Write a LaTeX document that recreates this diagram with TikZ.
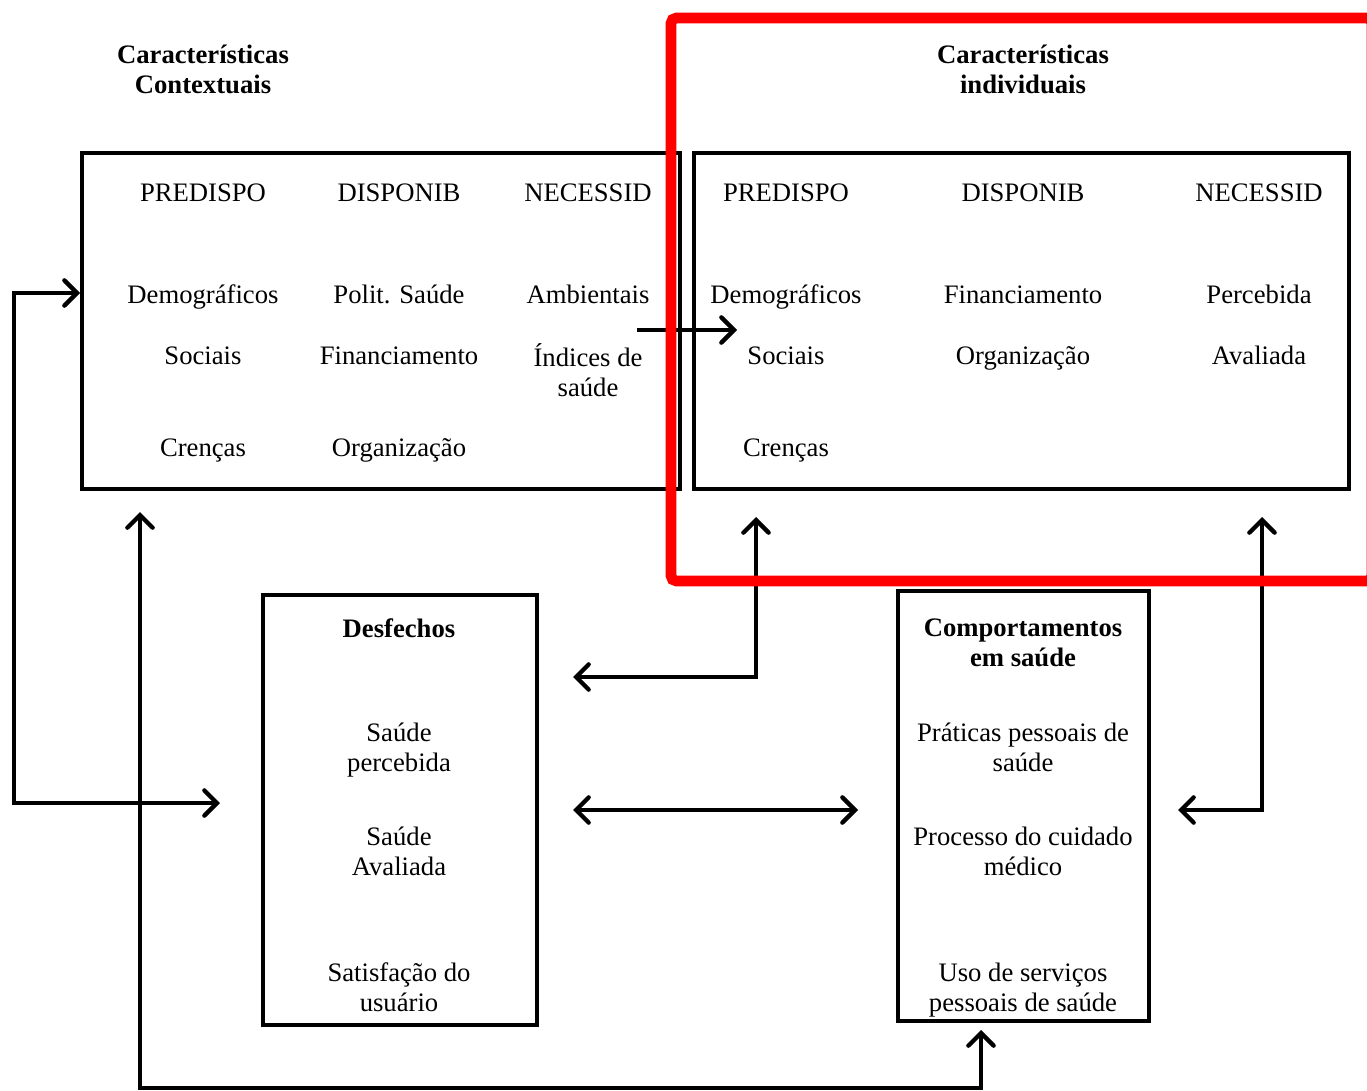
\documentclass[tikz,border=0pt]{standalone}
\usepackage{fontspec}
\setmainfont{Liberation Serif}
\usetikzlibrary{arrows.meta}
\begin{document}
\begin{tikzpicture}[x=0.75pt,y=-0.75pt,
  txt/.style={font=\fontsize{20}{22.5}\selectfont, align=center, inner sep=0pt},
  one/.style={txt, text height=15pt, text depth=5pt},
  ttl/.style={font=\fontsize{20}{22.5}\selectfont\bfseries, align=center, inner sep=0pt},
  box/.style={draw, line width=3pt, inner sep=0pt},
  conn/.style={line width=3.2pt, line join=miter},
  >={Straight Barb[length=9.5pt,width=19pt,line cap=round]}]
\useasboundingbox (0,0) rectangle (1367,1091);

% boxes
\node[box, minimum width=448.5pt, minimum height=252pt] (lbox) at (381,321) {};
\node[box, minimum width=491.25pt, minimum height=252pt] (rbox) at (1021.5,321) {};
\node[box, minimum width=205.5pt, minimum height=322.5pt] (dbox) at (400,810) {};
\node[box, minimum width=188.25pt, minimum height=322.5pt] (cbox) at (1023.5,806) {};

% titles
\node[ttl] (tl) at (203,69) {Características\\Contextuais};
\node[ttl] (tr) at (1023,69) {Características\\individuais};

% left box texts
\node[one] (l11) at (203,195) {PREDISPO};
\node[one] (l12) at (399,195) {DISPONIB};
\node[one] (l13) at (588,195) {NECESSID};
\node[one] (l21) at (203,297) {Demográficos};
\node[one] (l22) at (399,297) {Polit. Saúde};
\node[one] (l23) at (588,297) {Ambientais};
\node[one] (l31) at (203,358) {Sociais};
\node[one] (l32) at (399,358) {Financiamento};
\node[txt] (l33) at (588,370) {Índices de\\saúde};
\node[one] (l41) at (203,450) {Crenças};
\node[one] (l42) at (399,450) {Organização};

% right box texts
\node[one] (r11) at (786,195) {PREDISPO};
\node[one] (r12) at (1023,195) {DISPONIB};
\node[one] (r13) at (1259,195) {NECESSID};
\node[one] (r21) at (786,297) {Demográficos};
\node[one] (r22) at (1023,297) {Financiamento};
\node[one] (r23) at (1259,297) {Percebida};
\node[one] (r31) at (786,358) {Sociais};
\node[one] (r32) at (1023,358) {Organização};
\node[one] (r33) at (1259,358) {Avaliada};
\node[one] (r41) at (786,450) {Crenças};

% desfechos
\node[ttl] (d0) at (399,628) {Desfechos};
\node[txt] (d1) at (399,750) {Saúde\\percebida};
\node[txt] (d2) at (399,851) {Saúde\\Avaliada};
\node[txt] (d3) at (399,987) {Satisfação do\\usuário};

% comportamentos
\node[ttl] (c0) at (1023,643) {Comportamentos\\em saúde};
\node[txt] (c1) at (1023,747) {Práticas pessoais de\\saúde};
\node[txt] (c2) at (1023,851) {Processo do cuidado\\médico};
\node[txt] (c3) at (1023,990) {Uso de serviços\\pessoais de saúde};

% connector ends
\coordinate (aL) at (80,293);
\coordinate (aLc) at (14,293);
\coordinate (aD) at (220,803);
\coordinate (bL) at (140,512);
\coordinate (bC) at (981,1088);
\coordinate (bCt) at (981,1030);
\coordinate (hA) at (637,330);
\coordinate (hB) at (737,330);
\coordinate (mU) at (756,517);
\coordinate (mD) at (573,677);
\coordinate (dR) at (573,810);
\coordinate (cL) at (858,810);
\coordinate (rU) at (1262,517);
\coordinate (rD) at (1178,810);

\draw[conn,<->] (aD) -| (aLc) -- (aL);
\draw[conn,<->] (bL) |- (bC) -- (bCt);
\draw[conn,->] (hA) -- (hB);
\draw[conn,<->] (mU) |- (mD);
\draw[conn,<->] (dR) -- (cL);
\draw[conn,<->] (rU) |- (rD);

% red highlight
\draw[red, line width=8pt, rounded corners=4pt] (671,18) rectangle (1372,581);
\end{tikzpicture}
\end{document}
